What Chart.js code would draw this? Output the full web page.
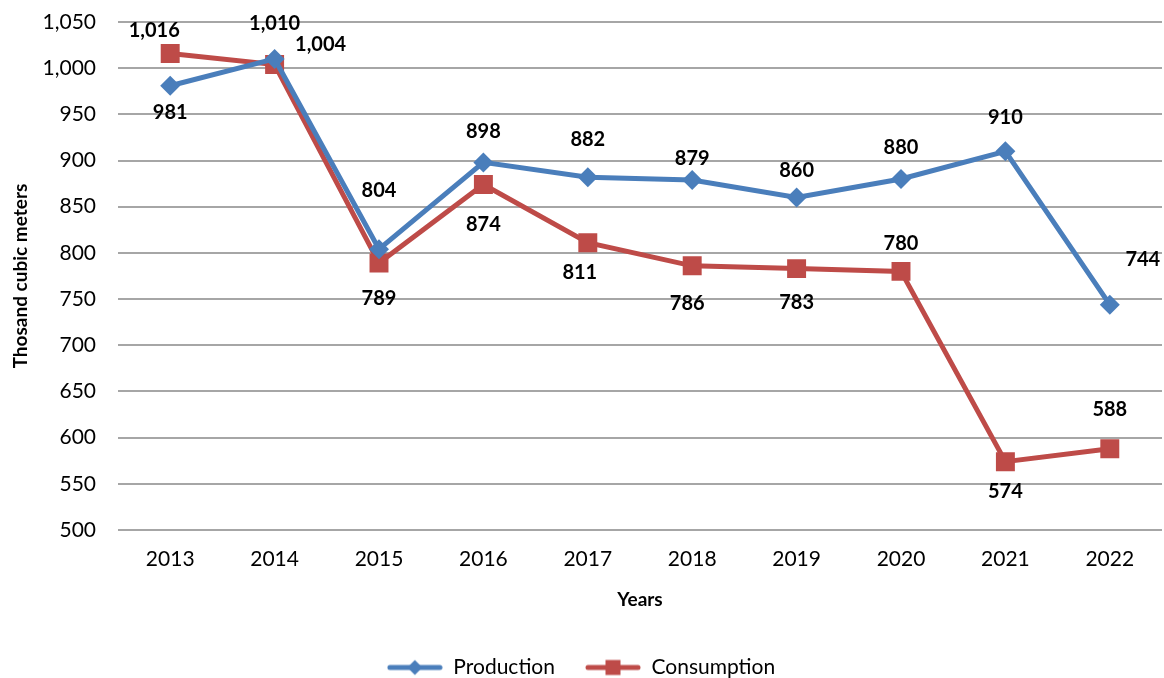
<!DOCTYPE html>
<html>
<head>
<meta charset="utf-8">
<script src="https://cdn.jsdelivr.net/npm/chart.js@4/dist/chart.umd.min.js"></script>
<style>
html,body{margin:0;padding:0;background:#fff;}
#wrap{width:1164px;height:678px;position:relative;}
</style>
</head>
<body>
<div id="wrap"><canvas id="c" width="1164" height="678"></canvas></div>
<script>
const years = ['2013','2014','2015','2016','2017','2018','2019','2020','2021','2022'];
const production = [981, 1010, 804, 898, 882, 879, 860, 880, 910, 744];
const consumption = [1016, 1004, 789, 874, 811, 786, 783, 780, 574, 588];
const yMin = 500, yMax = 1050, yStep = 50;

// label offsets (style only, px)
const prodLabelOffsets = [[0,27],[0,-35],[0,-59],[0,-31],[0,-38],[0,-21],[0,-27],[0,-31],[0,-34],[33,-45]];
const consLabelOffsets = [[-16,-23],[46,-20],[0,35],[0,40],[-8,30],[-5,38],[0,34],[0,-28],[0,30],[0,-39]];

const BLUE = '#4A7EBB';
const RED = '#BE4B48';
const FONT = 'Lato, "Open Sans", sans-serif';

function legendIcon(color, shape) {
  const c = document.createElement('canvas');
  c.width = 56; c.height = 18;
  const g = c.getContext('2d');
  g.strokeStyle = color; g.lineWidth = 5; g.lineCap = 'round';
  g.beginPath(); g.moveTo(3, 9); g.lineTo(53, 9); g.stroke();
  g.fillStyle = color;
  if (shape === 'diamond') {
    g.beginPath(); g.moveTo(28, 1.5); g.lineTo(35.5, 9); g.lineTo(28, 16.5); g.lineTo(20.5, 9); g.closePath(); g.fill();
  } else {
    g.fillRect(20.5, 1.5, 15, 15);
  }
  return c;
}

const labelPlugin = {
  id: 'valueLabels',
  afterDatasetsDraw(chart) {
    const ctx = chart.ctx;
    ctx.save();
    ctx.font = 'bold 20px ' + FONT;
    ctx.fillStyle = '#000';
    ctx.textAlign = 'center';
    ctx.textBaseline = 'middle';
    chart.data.datasets.forEach((ds, di) => {
      const meta = chart.getDatasetMeta(di);
      const offs = ds.labelOffsets;
      meta.data.forEach((pt, i) => {
        const o = offs[i];
        ctx.fillText(ds.data[i].toLocaleString('en-US'), pt.x + o[0], pt.y + o[1]);
      });
    });
    ctx.restore();
  }
};

// Stretch the plot area to the right edge (Chart.js reserves room for the last x label)
const areaPlugin = {
  id: 'areaFix',
  afterLayout(chart) {
    const ca = chart.chartArea;
    const xs = chart.scales.x;
    const right = chart.width - 2;
    ca.right = right; ca.width = right - ca.left;
    xs.right = right; xs.width = right - xs.left;
    xs.configure();
  }
};

new Chart(document.getElementById('c'), {
  type: 'line',
  data: {
    labels: years,
    datasets: [
      {
        label: 'Production', data: production, labelOffsets: prodLabelOffsets,
        borderColor: BLUE, backgroundColor: BLUE, borderWidth: 5, tension: 0,
        pointStyle: 'rectRot', pointRadius: 10, pointBorderWidth: 0, pointHoverRadius: 10,
        legendImg: legendIcon(BLUE, 'diamond')
      },
      {
        label: 'Consumption', data: consumption, labelOffsets: consLabelOffsets,
        borderColor: RED, backgroundColor: RED, borderWidth: 5, tension: 0,
        pointStyle: 'rect', pointRadius: 13.4, pointBorderWidth: 0, pointHoverRadius: 13.4,
        legendImg: legendIcon(RED, 'square')
      }
    ]
  },
  options: {
    responsive: false,
    animation: false,
    events: [],
    layout: { padding: { top: 22, right: 2, left: 0, bottom: -10 } },
    plugins: {
      tooltip: { enabled: false },
      legend: {
        position: 'bottom',
        labels: {
          usePointStyle: true,
          pointStyleWidth: 56,
          padding: 30,
          color: '#000',
          font: { family: FONT, size: 21 },
          generateLabels(chart) {
            return chart.data.datasets.map((ds, i) => ({
              text: ds.label, pointStyle: ds.legendImg, fillStyle: ds.borderColor,
              strokeStyle: ds.borderColor, lineWidth: 0, hidden: false, datasetIndex: i, fontColor: '#000'
            }));
          }
        }
      }
    },
    scales: {
      x: {
        type: 'category',
        offset: true,
        grid: { display: false, drawTicks: false },
        border: { display: false },
        ticks: { color: '#000', font: { family: FONT, size: 21 }, padding: 17, maxRotation: 0 },
        title: { display: true, text: 'Years', color: '#000', font: { family: FONT, size: 19, weight: 'bold' }, padding: { top: 0, bottom: 16 } },
        afterFit(s) { s.height = 97; }
      },
      y: {
        min: yMin, max: yMax,
        ticks: { stepSize: yStep, color: '#000', font: { family: FONT, size: 21 }, padding: 22,
          callback: v => v.toLocaleString('en-US') },
        grid: { color: '#A6A6A6', lineWidth: 2, drawTicks: false },
        border: { display: false },
        title: { display: true, text: 'Thosand cubic meters', color: '#000', font: { family: FONT, size: 19, weight: 'bold' }, padding: { top: 9, bottom: 0 } },
        afterFit(s) { s.width = 118; s.paddingTop = 0; s.paddingBottom = 0; }
      }
    }
  },
  plugins: [labelPlugin, areaPlugin]
});
</script>
</body>
</html>
